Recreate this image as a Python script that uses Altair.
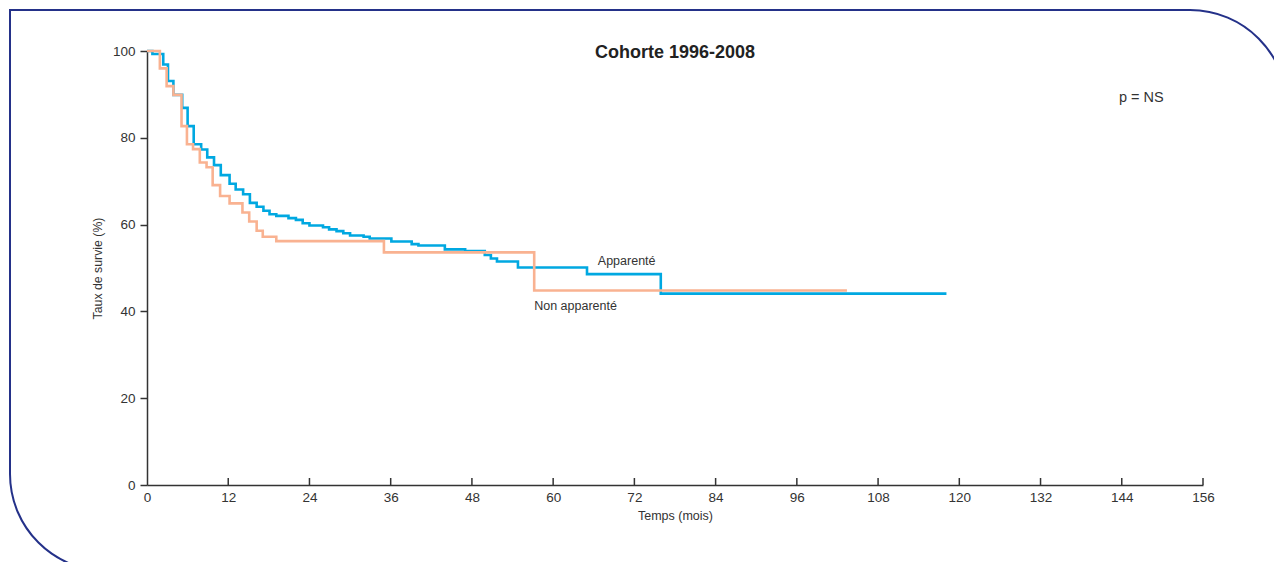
import altair as alt
import pandas as pd

# --- data ---
blue_months = [0, 0.8, 2.4, 3.1, 3.9, 5.2, 6.0, 6.9, 8.0, 8.9, 9.9, 10.9, 12.2, 13.1, 14.2, 15.2,
               16.2, 17.2, 18.1, 19.1, 20.9, 22.0, 23.0, 24.0, 26.0, 26.9, 28.0, 29.0, 30.0, 32.0,
               32.9, 36.1, 39.1, 40.1, 44.0, 47.0, 49.9, 50.8, 51.7, 54.8, 65.0, 75.9, 118.1]
blue_surv = [100, 99.3, 96.9, 93.1, 89.9, 86.9, 82.7, 78.5, 77.3, 75.5, 73.7, 71.4, 69.4, 68.1, 67.0, 65.0,
             64.1, 63.2, 62.4, 62.0, 61.5, 61.1, 60.3, 59.8, 59.4, 58.9, 58.5, 58.0, 57.5, 57.2,
             56.8, 56.1, 55.5, 55.2, 54.3, 53.9, 53.0, 52.2, 51.5, 50.1, 48.6, 44.1, 44.1]

orange_months = [0, 1.9, 2.9, 3.9, 5.1, 5.9, 6.8, 7.8, 8.8, 9.7, 10.8, 12.2, 14.1, 15.1, 16.2, 17.1,
                 19.1, 35.0, 57.2, 103.4]
orange_surv = [100, 96.0, 91.9, 89.9, 82.7, 78.5, 77.4, 74.3, 73.2, 69.1, 66.6, 64.9, 62.8, 60.7, 58.6, 57.2,
               56.2, 53.6, 44.8, 44.8]

x_ticks = [0, 12, 24, 36, 48, 60, 72, 84, 96, 108, 120, 132, 144, 156]
y_ticks = [0, 20, 40, 60, 80, 100]

labels_text = ["Apparenté", "Non apparenté"]
labels_x = [66.6, 57.2]
labels_y = [51.6, 41.2]

title_text = "Cohorte 1996-2008"
p_text = "p = NS"

BLUE = "#00a8e1"
ORANGE = "#f9b291"
NAVY = "#243189"
INK = "#333333"
FONT = "Liberation Sans"

W, H = 1056, 434

df = pd.DataFrame(
    {"mois": blue_months + orange_months,
     "survie": blue_surv + orange_surv,
     "groupe": ["Apparenté"] * len(blue_months) + ["Non apparenté"] * len(orange_months)}
)

xs = alt.Scale(domain=[0, 156], nice=False, zero=False)
ys = alt.Scale(domain=[0, 100], nice=False)

x_axis = alt.Axis(values=x_ticks, ticks=False, grid=False, labelPadding=5, title="Temps (mois)",
                  titlePadding=6, labelFontSize=13.5, titleFontSize=12.5, titleFontWeight="normal",
                  labelFlush=False)
y_axis = alt.Axis(values=y_ticks, tickSize=7, grid=False, labelPadding=5, title="Taux de survie (%)",
                  titlePadding=8, labelFontSize=13.5, titleFontSize=12.3, titleFontWeight="normal",
                  labelFlush=False)

base = alt.Chart(df)

blue_line = base.transform_filter(alt.datum.groupe == "Apparenté").mark_line(
    interpolate="step-after", color=BLUE, strokeWidth=2.6
).encode(
    x=alt.X("mois:Q", scale=xs, axis=x_axis),
    y=alt.Y("survie:Q", scale=ys, axis=y_axis),
)

orange_line = base.transform_filter(alt.datum.groupe == "Non apparenté").mark_line(
    interpolate="step-after", color=ORANGE, strokeWidth=2.6
).encode(
    x=alt.X("mois:Q", scale=xs),
    y=alt.Y("survie:Q", scale=ys),
)

tick_df = pd.DataFrame({"t": x_ticks[1:]})
x_tick_marks = alt.Chart(tick_df).mark_rule(color=INK, strokeWidth=1.5).encode(
    x=alt.X("t:Q", scale=xs),
    y=alt.value(H),
    y2=alt.value(H - 7),
)

lab_df = pd.DataFrame({"txt": labels_text, "x": labels_x, "y": labels_y})
curve_labels = alt.Chart(lab_df).mark_text(
    align="left", baseline="middle", font=FONT, fontSize=12.5, color=INK
).encode(
    x=alt.X("x:Q", scale=xs),
    y=alt.Y("y:Q", scale=ys),
    text="txt:N",
)

one = pd.DataFrame({"a": [0]})
title_mark = alt.Chart(one).mark_text(
    text=title_text, align="center", baseline="middle", font=FONT, fontSize=18,
    fontWeight="bold", color="#222222"
).encode(x=alt.value(W / 2), y=alt.value(2))

p_mark = alt.Chart(one).mark_text(
    text=p_text, align="left", baseline="middle", font=FONT, fontSize=14.5, color=INK
).encode(x=alt.value(972), y=alt.value(47))

frame = alt.Chart(one).mark_rect(
    filled=False, stroke=NAVY, strokeWidth=2, cornerRadiusTopRight=97, cornerRadiusBottomLeft=97
).encode(
    x=alt.value(-137), x2=alt.value(1140), y=alt.value(-41), y2=alt.value(520)
)

chart = alt.layer(
    frame, blue_line, orange_line, x_tick_marks, curve_labels, title_mark, p_mark
).properties(
    width=W, height=H,
    padding={"left": 139, "top": 43, "right": 71, "bottom": 77},
    autosize=alt.AutoSizeParams(type="none"),
).configure_view(
    strokeWidth=0
).configure_axis(
    domainColor=INK, domainWidth=1.5, tickColor=INK, tickWidth=1.5,
    labelColor=INK, titleColor=INK, labelFont=FONT, titleFont=FONT,
)

chart.save("out.html", embed_options={"renderer": "svg", "actions": False})
